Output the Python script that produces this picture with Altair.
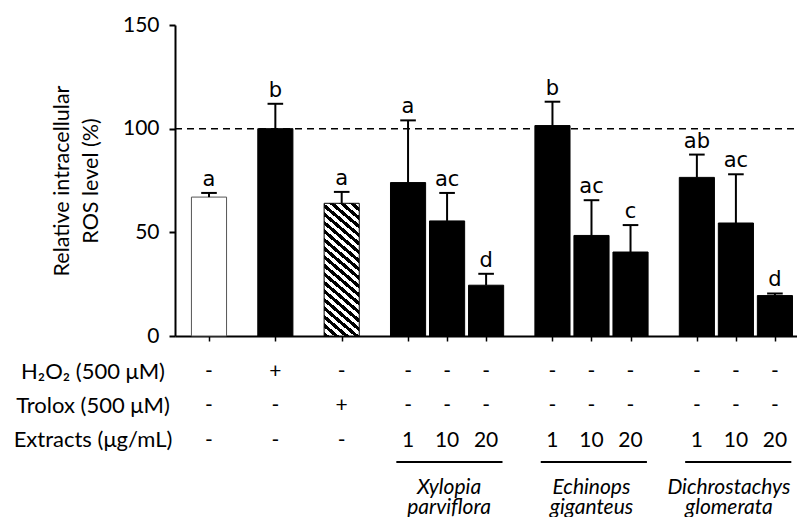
import altair as alt
import pandas as pd

# ---------------- data ----------------
treatments = ["Control", "H2O2", "Trolox",
              "XP 1", "XP 10", "XP 20",
              "EG 1", "EG 10", "EG 20",
              "DG 1", "DG 10", "DG 20"]
means = [67, 100, 64, 74, 55.5, 24.5, 101.5, 48.5, 40.5, 76.5, 54.5, 19.5]
errors = [2, 12, 5.5, 30, 13.5, 5.5, 11.5, 17, 13, 11, 23.5, 1]
letters = ["a", "b", "a", "a", "ac", "d", "b", "ac", "c", "ab", "ac", "d"]

h2o2_row = ["-", "+", "-", "-", "-", "-", "-", "-", "-", "-", "-", "-"]
trolox_row = ["-", "-", "+", "-", "-", "-", "-", "-", "-", "-", "-", "-"]
extract_row = ["-", "-", "-", "1", "10", "20", "1", "10", "20", "1", "10", "20"]
row_labels = ["H₂O₂ (500 μM)", "Trolox (500 μM)", "Extracts (μg/mL)"]
species = ["Xylopia\nparviflora", "Echinops\ngiganteus", "Dichrostachys\nglomerata"]

# ---------------- layout helpers ----------------
W, H = 622, 311
PX_PER_UNIT = 39.03
XMIN = -0.871
XMAX = XMIN + W / PX_PER_UNIT
HALF = 0.45      # half bar width (x units)
CAP = 0.2        # half cap width
SPECIES_SHIFT = [0.05, 0.0, -0.18]

# x positions: controls spaced 1.7, extracts in groups of 3
pos = [0.0, 1.7, 3.4]
for g in range(3):
    for k in range(3):
        pos.append(5.1 + g * 3.7 + k)

df = pd.DataFrame({
    "treat": treatments,
    "pos": pos,
    "mean": means,
    "top": [m + e for m, e in zip(means, errors)],
    "letter": letters,
    "h2o2": h2o2_row,
    "trolox": trolox_row,
    "extract": extract_row,
})
df["left"] = df["pos"] - HALF
df["right"] = df["pos"] + HALF
df["capl"] = df["pos"] - CAP
df["capr"] = df["pos"] + CAP

grp = pd.DataFrame({
    "species": species,
    "start": [pos[3 + 3 * g] - 0.3 for g in range(3)],
    "end": [pos[5 + 3 * g] + 0.42 for g in range(3)],
    "center": [pos[4 + 3 * g] + SPECIES_SHIFT[g] for g in range(3)],
})

xscale = alt.Scale(domain=[XMIN, XMAX], nice=False, zero=False)
yscale = alt.Scale(domain=[0, 150], nice=False)

x_axis = alt.Axis(values=pos, labels=False, tickSize=5, tickWidth=1.5,
                  domainWidth=2, title=None, grid=False)
y_axis = alt.Axis(values=[0, 50, 100, 150], tickSize=6, tickWidth=2,
                  domainWidth=2, grid=False, labelPadding=10,
                  title=["Relative intracellular", "ROS level (%)"],
                  titleFont="Lato", titleFontSize=21.5, titleFontWeight="normal",
                  titleColor="black", titlePadding=20, titleLineHeight=29)


def X(field):
    return alt.X(field, scale=xscale, axis=x_axis)


def Y(field):
    return alt.Y(field, scale=yscale, axis=y_axis)


base = alt.Chart(df)

# striped gradient for the Trolox bar
troloxv = means[2]
w_px = 2 * HALF * PX_PER_UNIT
h_px = troloxv * H / 150
m = 0.85
s = (w_px * m + h_px) / (w_px ** 2 * m ** 2 + h_px ** 2)
nper = 19
stops = []
for i in range(nper):
    a = i / nper
    b = (i + 0.5) / nper
    c = (i + 1) / nper
    stops += [{"offset": a, "color": "black"}, {"offset": b, "color": "black"},
              {"offset": b, "color": "white"}, {"offset": c, "color": "white"}]
gradient = {"gradient": "linear", "x1": 0, "y1": 1,
            "x2": w_px * m * s, "y2": 1 - h_px * s, "stops": stops}

bars = base.transform_filter(alt.datum.treat != "Trolox").mark_bar(strokeWidth=1).encode(
    x=X("left:Q"),
    x2="right:Q",
    y=Y("mean:Q"),
    y2=alt.datum(0),
    fill=alt.condition(alt.datum.treat == "Control", alt.value("white"), alt.value("black")),
    stroke=alt.condition(alt.datum.treat == "Control", alt.value("#555555"), alt.value("black")),
)

tbar = base.transform_filter(alt.datum.treat == "Trolox").mark_bar(
    fill=gradient, stroke="black", strokeWidth=1).encode(
    x=X("left:Q"),
    x2="right:Q",
    y=Y("mean:Q"),
    y2=alt.datum(0),
)

err = base.mark_rule(color="black", strokeWidth=2).encode(
    x=X("pos:Q"),
    y=Y("mean:Q"),
    y2="top:Q",
)
cap = base.mark_rule(color="black", strokeWidth=2).encode(
    x=X("capl:Q"),
    x2="capr:Q",
    y=Y("top:Q"),
)
lett = base.mark_text(font="DejaVu Sans", fontSize=21, baseline="bottom",
                      dy=-3, color="black").encode(
    x=X("pos:Q"),
    y=Y("top:Q"),
    text="letter:N",
)

ref = alt.Chart(pd.DataFrame({"ref": [100]})).mark_rule(
    color="black", strokeWidth=1.5, strokeDash=[7, 5]).encode(
    y=Y("ref:Q"),
    x=alt.value(0), x2=alt.value(W),
)


def row_layer(col, ypix):
    return base.mark_text(font="Lato", fontSize=21, baseline="middle",
                          color="black").encode(
        x=X("pos:Q"),
        y=alt.value(ypix),
        text=f"{col}:N",
    )


rows = [row_layer("h2o2", 347), row_layer("trolox", 381), row_layer("extract", 416)]

lab_df = pd.DataFrame({"label": row_labels, "row": [0, 1, 2]})
labels = []
for i, ypix in enumerate([347, 381, 415]):
    labels.append(alt.Chart(lab_df).transform_filter(alt.datum.row == i).mark_text(
        font="Lato", fontSize=22, baseline="middle", align="center", color="black").encode(
        x=alt.value(-82), y=alt.value(ypix), text="label:N"))

under = alt.Chart(grp).mark_rule(color="black", strokeWidth=2).encode(
    x=X("start:Q"),
    x2="end:Q",
    y=alt.value(437),
)
spec = alt.Chart(grp).mark_text(font="Lato", fontSize=21, fontStyle="italic",
                                baseline="alphabetic", lineBreak="\n", lineHeight=20,
                                color="black").encode(
    x=X("center:Q"),
    y=alt.value(469),
    text="species:N",
)

chart = alt.layer(bars, tbar, err, cap, lett, ref, *rows, *labels, under, spec).properties(
    width=W, height=H,
    autosize=alt.AutoSizeParams(type="none"),
    padding={"left": 167, "top": 17, "right": 0, "bottom": 181},
).configure_view(stroke=None).configure_axis(
    domainColor="black", tickColor="black", labelColor="black",
    labelFont="Lato", labelFontSize=21,
)

chart.save("out.html", embed_options={"renderer": "svg", "actions": False})
